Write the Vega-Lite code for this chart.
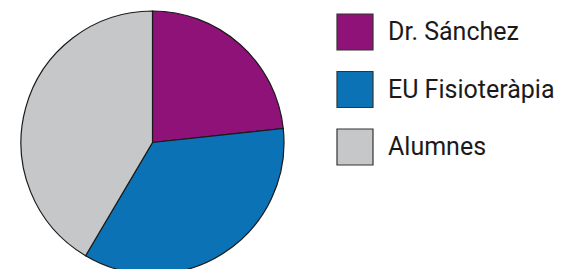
{
  "$schema": "https://vega.github.io/schema/vega-lite/v6.json",
  "autosize": {"type": "none"},
  "padding": {"left": 0, "top": 16, "right": 258, "bottom": 0},
  "width": 305,
  "height": 253,
  "background": "white",
  "data": {"values": [
    {"grup": "Dr. Sánchez", "valor": 23.3},
    {"grup": "EU Fisioteràpia", "valor": 35.2},
    {"grup": "Alumnes", "valor": 41.5}
  ]},
  "mark": {"type": "arc", "radius": 131.5, "stroke": "#1a1a1a", "strokeWidth": 1.2},
  "encoding": {
    "theta": {"field": "valor", "type": "quantitative", "stack": true},
    "color": {
      "field": "grup",
      "type": "nominal",
      "sort": ["Dr. Sánchez", "EU Fisioteràpia", "Alumnes"],
      "scale": {"domain": ["Dr. Sánchez", "EU Fisioteràpia", "Alumnes"], "range": ["#8E1278", "#0B72B5", "#C6C7C9"]},
      "legend": {
        "title": null,
        "orient": "none",
        "legendX": 336,
        "legendY": -3,
        "symbolType": "square",
        "symbolSize": 1296,
        "symbolStrokeColor": "#333",
        "symbolStrokeWidth": 1.2,
        "symbolOpacity": 1,
        "labelFont": "Roboto",
        "labelFontSize": 25,
        "labelColor": "#1a1a1a",
        "labelOffset": 14,
        "rowPadding": 15.5,
        "labelLimit": 300
      }
    },
    "order": {"field": "valor", "sort": "ascending"}
  },
  "config": {"view": {"stroke": null}}
}
